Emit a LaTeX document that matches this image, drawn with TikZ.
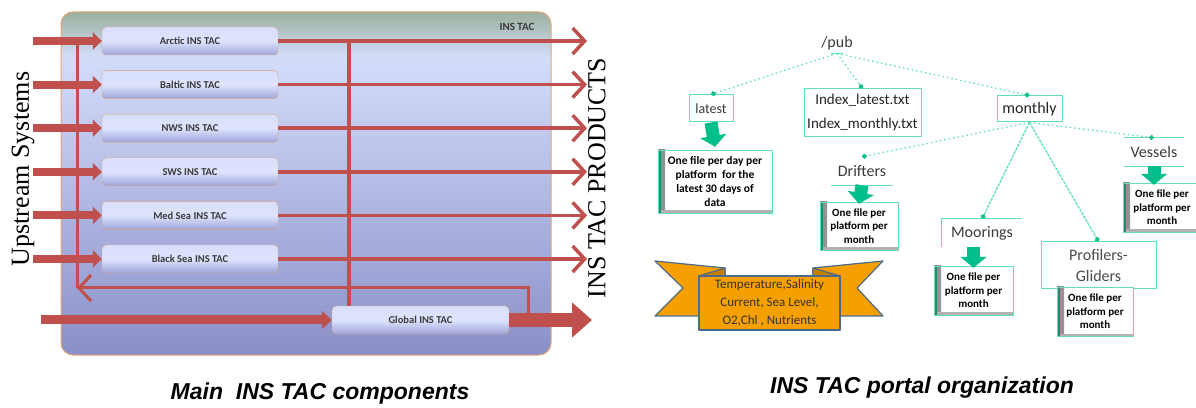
\documentclass[tikz,border=0pt]{standalone}
\usepackage{fontspec}
\setmainfont{Liberation Serif}
\setsansfont{Carlito}
\newfontfamily\capfont{Liberation Sans}
\usetikzlibrary{arrows.meta,positioning,calc}
\definecolor{tacred}{HTML}{C0504D}
\definecolor{paneltop}{HTML}{9BAF9E}
\definecolor{panelmid}{HTML}{D3DDFA}
\definecolor{panelbot}{HTML}{8B8FC8}
\definecolor{paneledge}{HTML}{E2A77A}
\definecolor{boxtop}{HTML}{D8DFFC}
\definecolor{boxbot}{HTML}{9FA5DA}
\definecolor{boxedge}{HTML}{E0A272}
\definecolor{ink}{HTML}{3A3A3A}
\definecolor{treeline}{HTML}{62E0BE}
\definecolor{dotgreen}{HTML}{12C08E}
\definecolor{arrowgreen}{HTML}{00BF8A}
\definecolor{darkgreen}{HTML}{1C8F6E}
\definecolor{ribbonfill}{HTML}{F6A000}
\definecolor{ribbonline}{HTML}{4C6A8C}
\tikzset{
  tacbox/.style={draw=boxedge,rounded corners=4pt,top color=boxtop,bottom color=boxbot,middle color=boxtop!85!white,minimum width=176pt,minimum height=28pt,inner sep=0pt,font=\sffamily\bfseries\fontsize{10.5}{12}\selectfont,text=ink},
  inflow/.style={line width=8pt,draw=tacred,-{Triangle[length=9pt,width=17pt]}},
  outflow/.style={line width=3.5pt,draw=tacred,-{Straight Barb[length=12pt,width=26pt]}},
  bus/.style={line width=4pt,draw=tacred},
  tree/.style={draw=treeline,line width=1.3pt,dash pattern=on 1.5pt off 3pt,-{Circle[length=5pt,color=dotgreen]}},
  tightree/.style={tree,dash pattern=on 3pt off 1pt},
  leaf/.style={draw=treeline,line width=1pt,fill=white,inner sep=2pt,align=center,font=\sffamily\fontsize{15}{24}\selectfont,text=black!85},
  downarrow/.style={line width=13pt,draw=arrowgreen,-{Triangle[length=11pt,width=26pt]}},
  info/.style={draw=treeline,fill=white,inner sep=2pt,align=center,font=\sffamily\bfseries\fontsize{11}{13.5}\selectfont,
    path picture={
      \fill[left color=black!45,right color=white] (path picture bounding box.north west) rectangle ([xshift=7pt]path picture bounding box.south west);
      \fill[black!30] (path picture bounding box.south west) rectangle ([yshift=2.5pt]path picture bounding box.south east);
      \draw[darkgreen,line width=5pt] (path picture bounding box.north west) -- (path picture bounding box.south west);
    }},
  ribbon/.style={fill=ribbonfill,draw=ribbonline,line width=1.2pt,line join=round},
  vlabel/.style={rotate=90,font=\fontsize{26}{26}\selectfont},
  caption/.style={font=\capfont\bfseries\itshape\fontsize{23}{23}\selectfont}
}
\begin{document}
\begin{tikzpicture}[x=1pt,y=1pt,node distance=15.2pt]
  \useasboundingbox (0,0) rectangle (1196,407);
  % left panel
  \begin{scope}
    \clip[rounded corners=12pt] (61,52) rectangle (551,395);
    \shade[top color=paneltop,bottom color=panelmid] (61,350) rectangle (551,395);
    \shade[top color=panelmid,bottom color=panelbot] (61,52) rectangle (551,350.5);
  \end{scope}
  \draw[paneledge,rounded corners=12pt,line width=1pt] (61,52) rectangle (551,395);
  \node[font=\sffamily\bfseries\fontsize{11}{11}\selectfont,text=ink] (panellabel) at (517,380) {INS TAC};

  \node[tacbox] (arctic) at (190,366) {Arctic INS TAC};
  \node[tacbox,below=of arctic] (baltic) {Baltic INS TAC};
  \node[tacbox,below=of baltic] (nws) {NWS INS TAC};
  \node[tacbox,below=of nws] (sws) {SWS INS TAC};
  \node[tacbox,below=of sws] (medsea) {Med Sea INS TAC};
  \node[tacbox,below=of medsea] (blacksea) {Black Sea INS TAC};
  \node[tacbox,minimum width=177pt] (global) at (420.5,87) {Global INS TAC};

  \coordinate (uin) at (33,0);
  \coordinate (gin) at (41,87);
  \coordinate (prod) at (587,0);
  \coordinate (gout) at (592,0);
  \coordinate (busx) at (349,0);
  \coordinate (fb) at (77,119);
  \coordinate (fbstart) at (528,94);

  \foreach \n in {arctic,baltic,nws,sws,medsea,blacksea}{
    \draw[inflow] (\n.west -| uin) -- (\n.west);
    \draw[outflow] (\n.east) -- (\n.east -| prod);
  }
  \draw[bus] (arctic.east -| busx) -- (global.north -| busx);
  \draw[line width=3pt,tacred] (arctic.west -| fb) -- (fb);
  \draw[outflow,line width=3pt] (fbstart) |- (fb);
  \draw[line width=9pt,tacred,-{Triangle[length=10pt,width=18pt]}] (gin) -- (global.west);
  \draw[line width=14pt,tacred,-{Triangle[length=20pt,width=34pt]}] (global.east) -- (global.east -| gout);

  \node[vlabel] (upstream) at (23,238) {Upstream Systems};
  \node[vlabel] (products) at (597,229) {INS TAC PRODUCTS};
  \node[caption] (capleft) at (320,13) {Main\ \ INS TAC components};

  % portal tree
  \node[font=\sffamily\fontsize{16}{16}\selectfont,text=ink] (pub) at (837,364) {/pub};
  \draw[treeline,line width=1.5pt] ([xshift=-6pt]pub.south) -- ([xshift=6pt]pub.south);
  \node[leaf,minimum width=44pt,minimum height=27pt,font=\sffamily\fontsize{14}{16}\selectfont,text=ink] (latest) at (711,298.5) {latest};
  \node[leaf,minimum width=117pt,minimum height=48pt] (index) at (862.5,294) {Index\_latest.txt\\Index\_monthly.txt};
  \node[leaf,minimum width=65pt,minimum height=26pt,font=\sffamily\fontsize{16}{16}\selectfont] (monthly) at (1029.5,298) {monthly};

  \node[font=\sffamily\fontsize{16}{16}\selectfont,text=ink,minimum width=61pt,minimum height=28pt] (drifters) at (862,236) {Drifters};
  \draw[treeline,line width=1pt] (drifters.south west) -- (drifters.south east);
  \node[font=\sffamily\fontsize{16}{16}\selectfont,text=ink,minimum width=60pt,minimum height=28pt] (vessels) at (1154,255) {Vessels};
  \draw[treeline,line width=1pt] (vessels.north west) -- (vessels.north east);
  \draw[treeline,line width=1pt] (vessels.south west) -- (vessels.south east);
  \node[font=\sffamily\fontsize{16}{16}\selectfont,text=ink,minimum width=80pt,minimum height=28pt] (moorings) at (982,174) {Moorings};
  \draw[treeline,line width=1pt] (moorings.south west) -- (moorings.north west) -- (moorings.north east);
  \node[leaf,minimum width=115pt,minimum height=47pt,font=\sffamily\fontsize{16}{21}\selectfont,text=black!70] (profilers) at (1098.5,141.5) {Profilers-\\Gliders};

  \draw[tree] (pub.south) -- (latest.north);
  \draw[tree] (pub.south) -- (index.north);
  \draw[tree] (pub.south) -- (monthly.north);
  \draw[tree] (monthly.south) -- (drifters.north);
  \draw[tree] (monthly.south) -- (vessels.north);
  \draw[tightree] (monthly.south) -- (moorings.north);
  \draw[tightree] (monthly.south) -- (profilers.north);

  \node[info,minimum width=114pt,minimum height=63pt,font=\sffamily\bfseries\fontsize{11.5}{14}\selectfont] (latestinfo) at (715,225.5) {One file per day per\\platform\ \ for the\\latest 30 days of\\data};
  \node[info,minimum width=78pt,minimum height=48pt] (drifinfo) at (859,181) {One file per\\platform per\\month};
  \node[info,minimum width=78pt,minimum height=49pt] (vesinfo) at (1162,199.5) {One file per\\platform per\\month};
  \node[info,minimum width=79pt,minimum height=49pt] (moorinfo) at (973.5,116.5) {One file per\\platform per\\month};
  \node[info,minimum width=76pt,minimum height=49pt] (profinfo) at (1095,95.5) {One file per\\platform per\\month};

  \draw[downarrow] (latest.south) -- ([yshift=3pt]latestinfo.north);
  \draw[downarrow] (drifters.south) -- ([yshift=-2pt]drifinfo.north);
  \draw[downarrow] (vessels.south) -- ([yshift=-2pt]vessels.south |- vesinfo.north);
  \draw[downarrow] (moorinfo.north |- moorings.south) -- ([yshift=-2pt]moorinfo.north);

  % ribbon
  \filldraw[ribbon] (655,146) -- (725,139) -- (725,91) -- (655,91) -- (683,119) -- cycle;
  \filldraw[ribbon] (883,146) -- (813,139) -- (813,91) -- (883,91) -- (857,119) -- cycle;
  \filldraw[ribbon,fill=ribbonfill!80!black] (699,131) -- (725,139) -- (725,131) -- cycle;
  \filldraw[ribbon,fill=ribbonfill!80!black] (840,131) -- (813,139) -- (813,131) -- cycle;
  \node[ribbon,minimum width=141pt,minimum height=54pt,inner sep=1pt,align=center,font=\sffamily\fontsize{13}{18}\selectfont,text=black!80] (variables) at (769.5,104) {Temperature,Salinity\\Current, Sea Level,\\O2,Chl , Nutrients};

  \node[caption] (capright) at (922,19) {INS TAC portal organization};
\end{tikzpicture}
\end{document}
